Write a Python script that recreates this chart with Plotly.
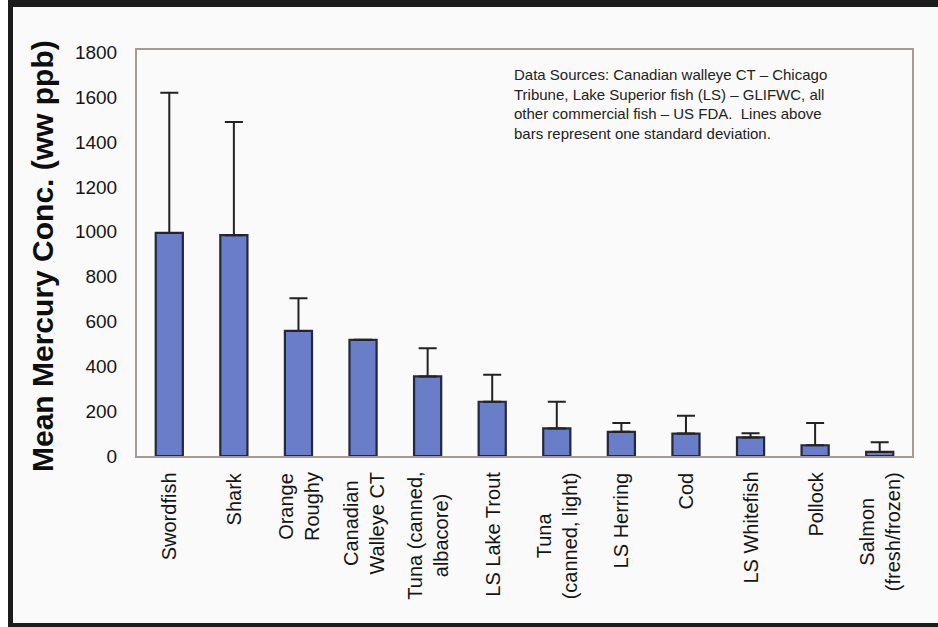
import plotly.graph_objects as go

# Mean mercury concentration (wet weight, ppb) by fish, with one standard deviation
fish = [
    "Swordfish", "Shark", "Orange<br>Roughy", "Canadian<br>Walleye CT",
    "Tuna (canned,<br>albacore)", "LS Lake Trout", "Tuna<br>(canned, light)",
    "LS Herring", "Cod", "LS Whitefish", "Pollock", "Salmon<br>(fresh/frozen)",
]
mean_ppb = [995, 985, 558, 518, 355, 242, 123, 108, 100, 83, 48, 18]
sd_ppb = [625, 505, 146, None, 126, 120, 119, 39, 80, 19, 99, 43]
y_ticks = [0, 200, 400, 600, 800, 1000, 1200, 1400, 1600, 1800]

note_lines = [
    "Data Sources: Canadian walleye CT \u2013 Chicago",
    "Tribune, Lake Superior fish (LS) \u2013 GLIFWC, all",
    "other commercial fish \u2013 US FDA.  Lines above",
    "bars represent one standard deviation.",
]

W, H = 938, 627
L, R, T, B = 137, 912, 50, 456
PW, PH = R - L, B - T


def xp(px):
    return (px - L) / PW


def yp(py):
    return (B - py) / PH


FONT = "Liberation Sans, Arial, sans-serif"
INK = "#151515"

fig = go.Figure()
fig.add_trace(go.Bar(
    x=fish,
    y=mean_ppb,
    marker=dict(color="#6a7dc8", line=dict(color="#25273a", width=2.2)),
    error_y=dict(
        type="data", array=sd_ppb, arrayminus=[0] * len(sd_ppb),
        symmetric=False, color="#222222", thickness=2, width=9,
    ),
    showlegend=False,
))

fig.update_layout(
    width=W, height=H,
    margin=dict(l=L, r=W - R, t=T, b=H - B, pad=0),
    paper_bgcolor="#fafafa",
    plot_bgcolor="#fafafa",
    bargap=0.58,
    font=dict(family=FONT, color=INK),
    xaxis=dict(
        showticklabels=False, ticks="", showgrid=False,
        showline=True, linecolor="#a69a94", linewidth=2, mirror=True,
    ),
    yaxis=dict(
        range=[0, 1811], tickvals=y_ticks, ticks="", showgrid=False,
        zeroline=False, showline=True, linecolor="#a69a94", linewidth=2,
        mirror=True, tickfont=dict(size=19, color=INK, family=FONT),
        ticklabelstandoff=14,
    ),
)

# category labels, rotated, centred line by line
for name in fish:
    fig.add_annotation(
        x=name, xref="x", y=yp(470), yref="paper",
        text=name, textangle=-90, xanchor="center", yanchor="top",
        align="center", showarrow=False,
        font=dict(size=20, color=INK, family=FONT),
    )

# y-axis title
fig.add_annotation(
    x=xp(43), y=yp(256), xref="paper", yref="paper",
    text="<b>Mean Mercury Conc. (ww ppb)</b>", textangle=-90,
    xanchor="center", yanchor="middle", showarrow=False,
    font=dict(size=30, color="#0e0e0e", family=FONT),
)

# source note
fig.add_annotation(
    x=xp(512), y=yp(64), xref="paper", yref="paper",
    text="<br>".join(note_lines), align="left",
    xanchor="left", yanchor="top", showarrow=False,
    font=dict(size=15, color="#222222", family=FONT),
)

# outer frame
frame = "#1c1c1c"
for x0, y0, x1, y1, col in [
    (0, 0, 8, H, "#ffffff"),
    (8, 0, W, 7, frame),
    (8, 0, 13, H, frame),
    (8, 623, W, H, frame),
]:
    fig.add_shape(
        type="rect", xref="paper", yref="paper",
        x0=xp(x0), x1=xp(x1), y0=yp(y0), y1=yp(y1),
        fillcolor=col, line=dict(width=0), layer="above",
    )

fig.write_html("out.html")
